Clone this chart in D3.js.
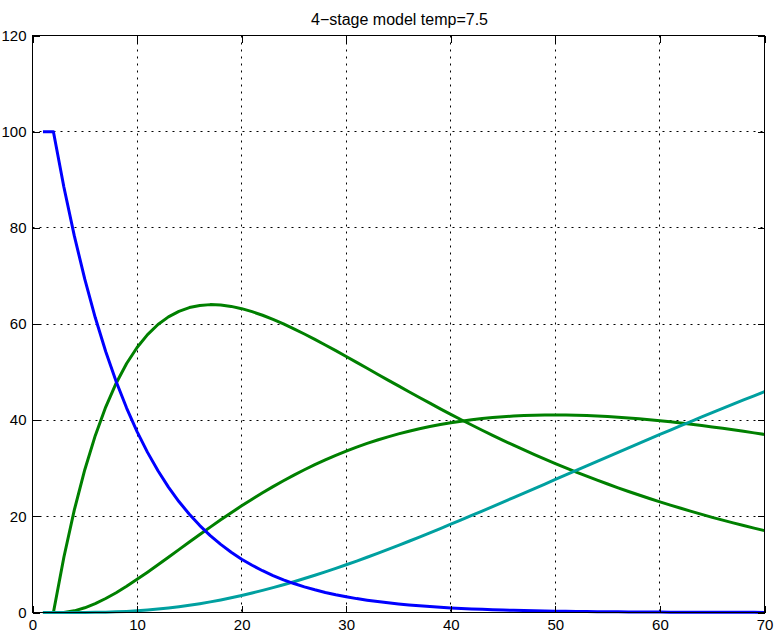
<!DOCTYPE html>
<html><head><meta charset="utf-8">
<script src="https://cdn.jsdelivr.net/npm/d3@7/dist/d3.min.js"></script>
<style>
html,body{margin:0;padding:0;background:#fff;}
svg{display:block;}
text{font-family:"Liberation Sans",Arial,Helvetica,sans-serif;fill:#000;}
</style></head>
<body>
<svg id="chart" width="780" height="635"></svg>
<script>
const title = "4\u2212stage model temp=7.5";
const days = [1,2,3,4,5,6,7,8,9,10,11,12,13,14,15,16,17,18,19,20,21,22,23,24,25,26,27,28,29,30,31,32,33,34,35,36,37,38,39,40,41,42,43,44,45,46,47,48,49,50,51,52,53,54,55,56,57,58,59,60,61,62,63,64,65,66,67,68,69,70];
const stage1 = [100,100,88.5,78.32,69.32,61.34,54.29,48.05,42.52,37.63,33.30,29.47,26.08,23.08,20.43,18.08,16.00,14.16,12.53,11.09,9.82,8.69,7.69,6.80,6.02,5.33,4.72,4.17,3.69,3.27,2.89,2.56,2.27,2.01,1.77,1.57,1.39,1.23,1.09,0.96,0.85,0.75,0.67,0.59,0.52,0.46,0.41,0.36,0.32,0.28,0.25,0.22,0.20,0.17,0.15,0.14,0.12,0.11,0.09,0.08,0.07,0.07,0.06,0.05,0.05,0.04,0.04,0.03,0.03,0.02];
const stage2 = [0,0,11.5,21.33,29.70,36.78,42.73,47.69,51.79,55.12,57.80,59.89,61.49,62.64,63.42,63.86,64.03,63.95,63.66,63.19,62.57,61.82,60.96,60.02,59.00,57.92,56.80,55.64,54.45,53.24,52.02,50.79,49.56,48.33,47.12,45.91,44.71,43.53,42.36,41.22,40.09,38.99,37.90,36.84,35.81,34.79,33.80,32.84,31.89,30.97,30.08,29.20,28.35,27.52,26.72,25.93,25.17,24.43,23.71,23.01,22.33,21.67,21.03,20.40,19.79,19.21,18.63,18.08,17.54,17.02];
const stage3 = [0,0,0,0.35,0.98,1.85,2.91,4.12,5.46,6.89,8.38,9.92,11.49,13.07,14.65,16.22,17.76,19.27,20.75,22.18,23.56,24.90,26.18,27.41,28.58,29.69,30.75,31.74,32.68,33.56,34.39,35.16,35.87,36.53,37.14,37.70,38.21,38.68,39.09,39.46,39.79,40.08,40.33,40.54,40.71,40.85,40.95,41.02,41.07,41.08,41.06,41.02,40.95,40.86,40.75,40.61,40.46,40.28,40.09,39.88,39.65,39.41,39.15,38.88,38.60,38.31,38.00,37.69,37.36,37.03];
const stage4 = [0,0,0,0,0.01,0.03,0.07,0.14,0.23,0.36,0.52,0.71,0.94,1.20,1.50,1.84,2.21,2.62,3.07,3.54,4.05,4.60,5.17,5.77,6.40,7.06,7.74,8.45,9.18,9.93,10.70,11.49,12.30,13.13,13.97,14.82,15.69,16.57,17.46,18.36,19.26,20.18,21.10,22.03,22.96,23.90,24.84,25.78,26.72,27.67,28.61,29.55,30.50,31.44,32.38,33.32,34.25,35.18,36.11,37.03,37.95,38.86,39.77,40.67,41.56,42.45,43.33,44.20,45.07,45.93];
const xTicks = [0,10,20,30,40,50,60,70];
const yTicks = [0,20,40,60,80,100,120];

const seriesList = [
  {name:"stage2", values:stage2, color:"#008000"},
  {name:"stage3", values:stage3, color:"#008000"},
  {name:"stage4", values:stage4, color:"#00A0A0"},
  {name:"stage1", values:stage1, color:"#0000FF"}
];

const L = 32.5, R = 764.5, T = 35.5, B = 612.5;
const svg = d3.select("#chart");
const x = d3.scaleLinear().domain([0,70]).range([L,R]);
const y = d3.scaleLinear().domain([0,120]).range([B,T]);
const snap = v => Math.round(v - 0.5) + 0.5;

// grid
const grid = svg.append("g");
xTicks.filter(t => t > 0 && t < 70).forEach(t => {
  grid.append("line").attr("x1", snap(x(t))).attr("x2", snap(x(t)))
    .attr("y1", T).attr("y2", B)
    .attr("stroke", "#000").attr("stroke-width", 1).attr("stroke-dasharray", "2,5");
});
yTicks.filter(t => t > 0 && t < 120).forEach(t => {
  grid.append("line").attr("y1", snap(y(t))).attr("y2", snap(y(t)))
    .attr("x1", L).attr("x2", R)
    .attr("stroke", "#000").attr("stroke-width", 1).attr("stroke-dasharray", "2,5");
});

// lines
const clip = svg.append("clipPath").attr("id","clip").append("rect")
  .attr("x", L - 2).attr("y", T).attr("width", R - L + 4).attr("height", B - T + 3);
const lineGen = vals => d3.line().x((d,i) => x(days[i])).y(d => y(d))(vals);
const lines = svg.append("g").attr("clip-path","url(#clip)");
seriesList.forEach(s => {
  lines.append("path").attr("d", lineGen(s.values))
    .attr("fill","none").attr("stroke", s.color).attr("stroke-width", 3)
    .attr("stroke-linejoin","round").attr("stroke-linecap","butt");
});

// axes
const fontSize = "15px";
const xAxis = svg.append("g").attr("transform", `translate(0,${B})`)
  .call(d3.axisBottom(x).tickValues(xTicks).tickSizeInner(-7).tickSizeOuter(0).tickPadding(7).tickFormat(d3.format("d")));
const xAxisTop = svg.append("g").attr("transform", `translate(0,${T})`)
  .call(d3.axisTop(x).tickValues(xTicks).tickSizeInner(-7).tickSizeOuter(0).tickFormat(""));
const yAxis = svg.append("g").attr("transform", `translate(${L},0)`)
  .call(d3.axisLeft(y).tickValues(yTicks).tickSizeInner(-7).tickSizeOuter(0).tickPadding(6).tickFormat(d3.format("d")));
const yAxisRight = svg.append("g").attr("transform", `translate(${R},0)`)
  .call(d3.axisRight(y).tickValues(yTicks).tickSizeInner(-7).tickSizeOuter(0).tickFormat(""));
[xAxis, xAxisTop, yAxis, yAxisRight].forEach(g => {
  g.select(".domain").remove();
  g.selectAll(".tick line").attr("stroke","#000").attr("shape-rendering","crispEdges");
  g.selectAll(".tick text").attr("font-size", fontSize).attr("font-family", '"Liberation Sans",Arial,sans-serif').attr("fill","#222");
});

// box
svg.append("rect").attr("x", L).attr("y", T).attr("width", R - L).attr("height", B - T)
  .attr("fill","none").attr("stroke","#000").attr("stroke-width",1);

// title
svg.append("text").attr("x", (L + R) / 2 + 1).attr("y", 25)
  .attr("text-anchor","middle").attr("font-size","16px").text(title);
</script>
</body></html>
